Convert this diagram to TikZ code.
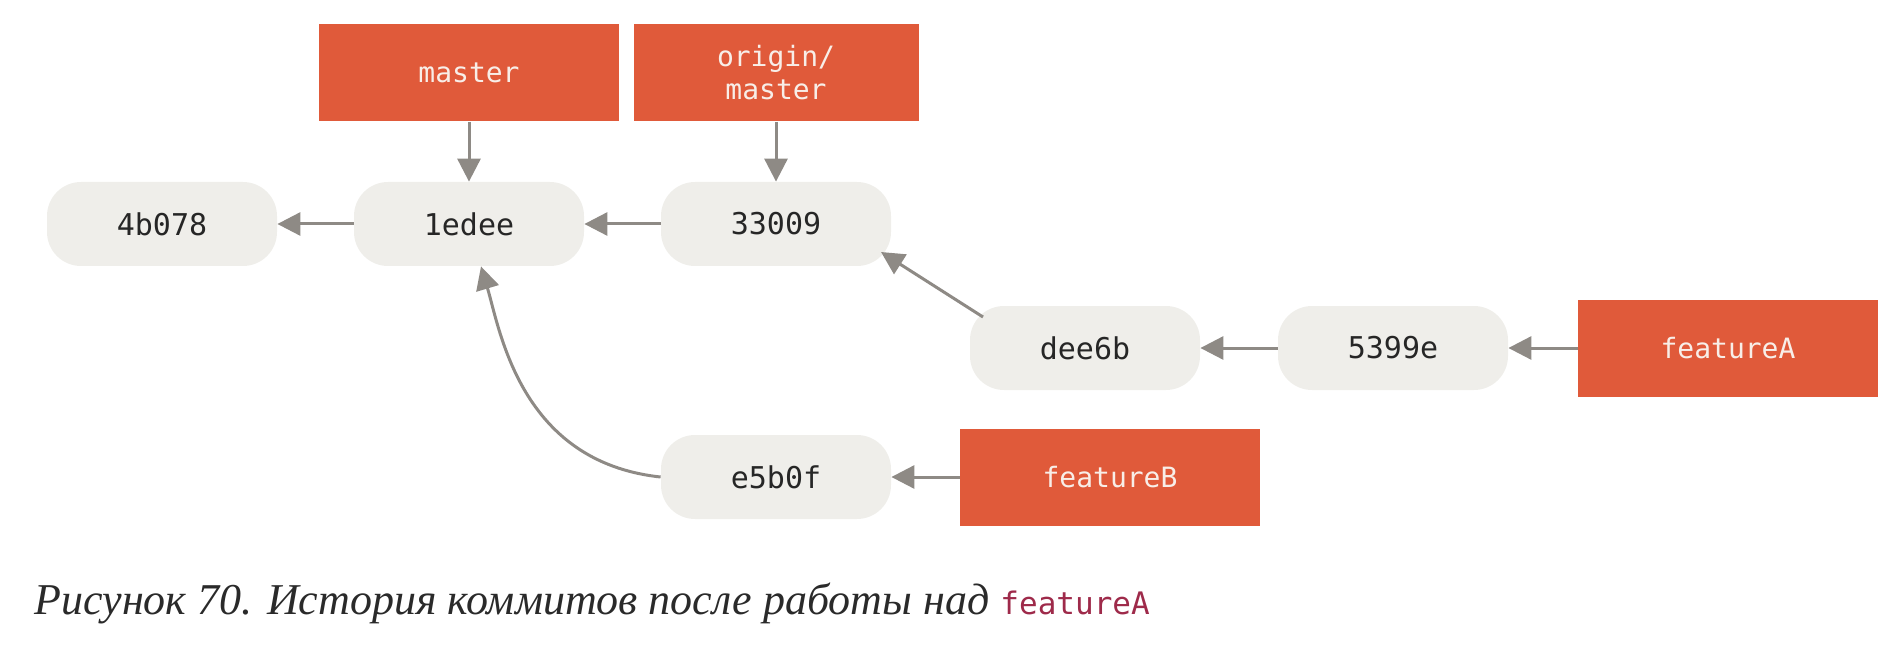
\documentclass[tikz,border=0pt]{standalone}
\usepackage{fontspec}
\setmainfont{Liberation Serif}
\setmonofont{DejaVu Sans Mono}
\usetikzlibrary{arrows.meta,calc}
\definecolor{tagred}{HTML}{E05A3A}
\definecolor{commitbg}{HTML}{EFEEEA}
\definecolor{arrgray}{HTML}{8E8A85}
\definecolor{tagtext}{HTML}{F8EEE8}
\definecolor{codered}{HTML}{9E2A4A}
\definecolor{captxt}{HTML}{2A2A2A}
\begin{document}
\begin{tikzpicture}[x=0.5pt,y=-0.5pt,
  commit/.style={fill=commitbg, rounded corners=17pt, minimum width=115pt, minimum height=42pt, inner sep=0pt, font=\ttfamily\fontsize{15}{18}\selectfont, text=black!85},
  tag/.style={fill=tagred, minimum width=150pt, minimum height=48.5pt, inner sep=0pt, font=\ttfamily\fontsize{14}{16.5}\selectfont, text=tagtext, align=center},
  arr/.style={draw=arrgray, line width=1.5pt, -{Triangle[length=11.5pt,width=11.5pt]}}]
\useasboundingbox (0,0) rectangle (1900,652);
% commits
\node[commit] (c4b) at (162,224) {4b078};
\node[commit] (c1e) at (469,224) {1edee};
\node[commit] (c33) at (776,224) {33009};
\node[commit] (cde) at (1085,348) {dee6b};
\node[commit] (c53) at (1393,348) {5399e};
\node[commit] (ce5) at (776,477) {e5b0f};
% tags
\node[tag] (master) at (469,73) {master};
\node[tag, minimum width=142.5pt] (origin) at (776,73) {origin/\\master};
\node[tag] (featA) at (1728,348) {featureA};
\node[tag] (featB) at (1110,477) {featureB};
% arrows
\draw[arr] (master) -- (c1e);
\draw[arr] (origin) -- (c33);
\draw[arr] (c1e) -- (c4b);
\draw[arr] (c33) -- (c1e);
\draw[arr] ($(cde.center)+(-102,-31)$) -- ($(c33.center)+(105,28)$);
\draw[arr] (c53) -- (cde);
\draw[arr] (featA) -- (c53);
\draw[arr] (featB) -- (ce5);
\draw[arr] (ce5.west) .. controls (520,462) and (500,330) .. ($(c1e.south)+(12,0)$);
% caption
\node[anchor=base west, inner sep=0pt, text=captxt] (cap) at (34,614) {\fontsize{22}{26}\selectfont\itshape Рисунок 70. История коммитов после работы над {\upshape\ttfamily\color{codered}\fontsize{15.5}{18}\selectfont featureA}};
\end{tikzpicture}
\end{document}
